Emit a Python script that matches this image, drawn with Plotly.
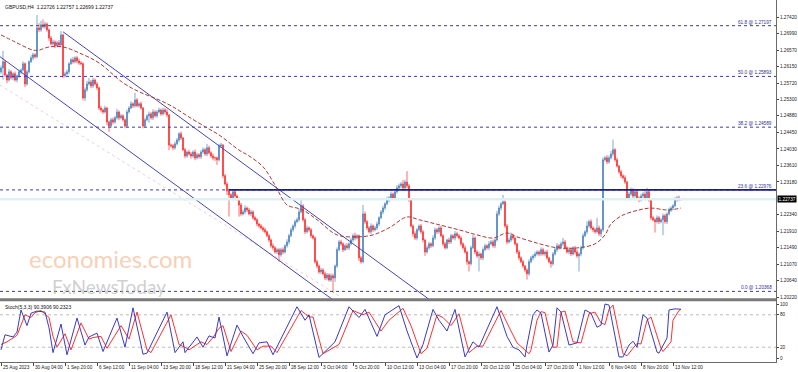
import plotly.graph_objects as go

# ---------------- data ----------------
symbol_title = "GBPUSD,H4  1.22726 1.22757 1.22699 1.22737"
stoch_title = "Stoch(5,3,3) 90.3906 90.2323"

first_open = 1.2601
closes = [
    1.2611, 1.2627, 1.2593, 1.2580, 1.2601, 1.2586, 1.2596, 1.2580, 1.2591, 1.2601,
    1.2606, 1.2622, 1.2570, 1.2601, 1.2627, 1.2637, 1.2645, 1.2640, 1.2714, 1.2709,
    1.2722, 1.2717, 1.2724, 1.2709, 1.2688, 1.2673, 1.2678, 1.2668, 1.2676, 1.2670,
    1.2696, 1.2591, 1.2596, 1.2601, 1.2622, 1.2632, 1.2627, 1.2637, 1.2629, 1.2624,
    1.2622, 1.2534, 1.2555, 1.2570, 1.2575, 1.2565, 1.2580, 1.2570, 1.2560, 1.2508,
    1.2503, 1.2498, 1.2508, 1.2472, 1.2462, 1.2478, 1.2472, 1.2483, 1.2498, 1.2483,
    1.2488, 1.2478, 1.2462, 1.2498, 1.2508, 1.2519, 1.2514, 1.2529, 1.2514, 1.2519,
    1.2508, 1.2462, 1.2478, 1.2488, 1.2493, 1.2483, 1.2498, 1.2488, 1.2498, 1.2503,
    1.2493, 1.2503, 1.2498, 1.2490, 1.2413, 1.2411, 1.2406, 1.2416, 1.2426, 1.2442,
    1.2431, 1.2401, 1.2385, 1.2395, 1.2390, 1.2385, 1.2395, 1.2380, 1.2388, 1.2383,
    1.2395, 1.2401, 1.2390, 1.2406, 1.2393, 1.2385, 1.2380, 1.2380, 1.2375, 1.2411,
    1.2413, 1.2334, 1.2313, 1.2295, 1.2285, 1.2277, 1.2293, 1.2282, 1.2275, 1.2259,
    1.2236, 1.2241, 1.2251, 1.2246, 1.2236, 1.2241, 1.2226, 1.2221, 1.2210, 1.2205,
    1.2200, 1.2195, 1.2190, 1.2180, 1.2169, 1.2154, 1.2149, 1.2138, 1.2144, 1.2131,
    1.2144, 1.2138, 1.2154, 1.2164, 1.2180, 1.2195, 1.2205, 1.2216, 1.2221, 1.2241,
    1.2257, 1.2221, 1.2190, 1.2200, 1.2195, 1.2180, 1.2174, 1.2113, 1.2102, 1.2087,
    1.2092, 1.2082, 1.2071, 1.2079, 1.2066, 1.2077, 1.2071, 1.2102, 1.2144, 1.2164,
    1.2159, 1.2144, 1.2154, 1.2149, 1.2159, 1.2169, 1.2180, 1.2174, 1.2180, 1.2123,
    1.2113, 1.2236, 1.2216, 1.2200, 1.2190, 1.2205, 1.2195, 1.2200, 1.2210, 1.2226,
    1.2241, 1.2251, 1.2262, 1.2272, 1.2277, 1.2287, 1.2277, 1.2293, 1.2303, 1.2308,
    1.2313, 1.2303, 1.2318, 1.2308, 1.2272, 1.2205, 1.2185, 1.2174, 1.2195, 1.2205,
    1.2190, 1.2169, 1.2138, 1.2149, 1.2159, 1.2154, 1.2174, 1.2195, 1.2190, 1.2200,
    1.2180, 1.2159, 1.2149, 1.2169, 1.2164, 1.2180, 1.2174, 1.2185, 1.2180, 1.2174,
    1.2159, 1.2149, 1.2138, 1.2113, 1.2108, 1.2149, 1.2174, 1.2138, 1.2128, 1.2133,
    1.2123, 1.2144, 1.2154, 1.2149, 1.2159, 1.2164, 1.2154, 1.2169, 1.2236, 1.2251,
    1.2262, 1.2267, 1.2205, 1.2164, 1.2169, 1.2180, 1.2174, 1.2159, 1.2138, 1.2123,
    1.2113, 1.2102, 1.2092, 1.2082, 1.2113, 1.2123, 1.2128, 1.2133, 1.2138, 1.2133,
    1.2144, 1.2133, 1.2138, 1.2123, 1.2113, 1.2108, 1.2133, 1.2144, 1.2154, 1.2149,
    1.2159, 1.2164, 1.2149, 1.2138, 1.2144, 1.2133, 1.2149, 1.2138, 1.2128, 1.2133,
    1.2149, 1.2180, 1.2190, 1.2205, 1.2216, 1.2200, 1.2195, 1.2190, 1.2200, 1.2185,
    1.2195, 1.2375, 1.2380, 1.2370, 1.2380, 1.2390, 1.2401, 1.2375, 1.2359, 1.2344,
    1.2334, 1.2329, 1.2318, 1.2277, 1.2287, 1.2298, 1.2282, 1.2293, 1.2277, 1.2272,
    1.2282, 1.2287, 1.2277, 1.2293, 1.2272, 1.2226, 1.2221, 1.2216, 1.2226, 1.2216,
    1.2221, 1.2231, 1.2216, 1.2236, 1.2246, 1.2251, 1.2257, 1.2272, 1.2277, 1.2273,
    1.22737,
]
# wick lengths in pips (high above body top, low below body bottom)
wick_up_pips = [
    6, 28, 4, 3, 7, 5, 4, 6, 3, 5,
    4, 6, 3, 5, 4, 7, 5, 4, 33, 12,
    10, 14, 6, 4, 3, 5, 6, 4, 5, 7,
    10, 3, 5, 6, 4, 5, 7, 4, 5, 6,
    5, 4, 6, 8, 10, 5, 6, 4, 5, 3,
    5, 4, 6, 3, 4, 5, 6, 5, 8, 4,
    5, 4, 3, 6, 5, 7, 4, 18, 5, 4,
    6, 3, 5, 4, 6, 5, 7, 4, 5, 6,
    4, 6, 5, 7, 3, 4, 5, 6, 5, 4,
    6, 3, 5, 4, 6, 5, 4, 7, 5, 4,
    5, 6, 4, 10, 5, 4, 6, 3, 4, 5,
    6, 3, 4, 5, 6, 4, 7, 5, 4, 3,
    5, 6, 7, 4, 5, 6, 4, 5, 4, 3,
    5, 4, 6, 3, 5, 4, 6, 4, 5, 4,
    5, 6, 4, 7, 5, 6, 4, 5, 6, 8,
    15, 4, 5, 6, 4, 5, 3, 4, 5, 4,
    5, 4, 6, 5, 4, 6, 5, 4, 6, 5,
    6, 4, 5, 7, 4, 6, 5, 8, 4, 3,
    5, 23, 6, 4, 5, 7, 4, 5, 6, 4,
    5, 6, 4, 8, 5, 6, 4, 5, 7, 6,
    5, 10, 6, 28, 5, 3, 4, 6, 5, 4,
    5, 4, 3, 6, 5, 4, 7, 6, 5, 4,
    6, 4, 5, 3, 6, 5, 4, 7, 5, 4,
    5, 4, 6, 3, 4, 5, 8, 4, 5, 6,
    4, 6, 5, 4, 7, 5, 6, 4, 8, 6,
    5, 18, 4, 5, 6, 8, 5, 4, 3, 5,
    4, 5, 3, 4, 6, 5, 4, 6, 5, 4,
    6, 5, 4, 6, 3, 4, 5, 6, 7, 5,
    6, 10, 5, 4, 6, 5, 4, 5, 6, 4,
    5, 6, 4, 12, 5, 6, 4, 5, 26, 6,
    4, 6, 5, 7, 6, 8, 26, 4, 5, 3,
    5, 4, 6, 3, 5, 6, 4, 7, 5, 4,
    6, 5, 8, 10, 4, 3, 5, 4, 6, 5,
    4, 6, 5, 4, 6, 5, 4, 7, 5, 6,
    2,
]
wick_dn_pips = [
    5, 30, 6, 8, 4, 5, 7, 4, 6, 5,
    6, 4, 8, 5, 4, 3, 6, 5, 4, 6,
    5, 4, 6, 5, 7, 4, 5, 6, 4, 5,
    4, 6, 5, 4, 6, 3, 5, 4, 6, 5,
    4, 6, 8, 5, 4, 6, 5, 4, 6, 5,
    6, 5, 4, 8, 15, 5, 6, 4, 5, 6,
    4, 5, 6, 5, 4, 3, 6, 5, 4, 5,
    4, 6, 5, 4, 18, 5, 6, 4, 5, 4,
    5, 4, 6, 5, 13, 4, 6, 5, 4, 6,
    5, 4, 6, 5, 4, 7, 5, 6, 4, 5,
    6, 4, 5, 6, 4, 5, 6, 8, 13, 4,
    5, 6, 4, 10, 56, 5, 6, 4, 5, 30,
    5, 4, 6, 5, 4, 6, 5, 4, 6, 5,
    4, 6, 5, 4, 6, 5, 7, 4, 5, 18,
    5, 6, 4, 5, 6, 4, 5, 6, 4, 5,
    4, 5, 6, 4, 5, 6, 4, 5, 6, 5,
    6, 4, 5, 6, 4, 5, 38, 10, 5, 4,
    5, 6, 4, 5, 6, 4, 5, 6, 4, 8,
    5, 4, 6, 5, 4, 6, 5, 4, 6, 5,
    4, 6, 5, 4, 6, 5, 4, 6, 5, 4,
    6, 5, 4, 6, 5, 4, 8, 5, 6, 4,
    5, 6, 10, 4, 5, 6, 4, 5, 6, 5,
    4, 6, 5, 4, 6, 5, 4, 6, 5, 4,
    6, 5, 4, 8, 20, 5, 4, 6, 5, 40,
    5, 6, 4, 5, 6, 4, 5, 6, 4, 5,
    6, 4, 5, 6, 4, 5, 6, 4, 5, 6,
    4, 5, 6, 15, 5, 4, 6, 5, 4, 6,
    5, 4, 6, 5, 4, 10, 5, 4, 6, 5,
    4, 6, 5, 4, 6, 5, 4, 6, 5, 40,
    6, 5, 4, 6, 5, 4, 6, 5, 4, 6,
    8, 5, 4, 6, 5, 4, 6, 5, 4, 5,
    6, 4, 5, 6, 4, 5, 6, 4, 5, 6,
    4, 5, 6, 4, 5, 6, 4, 28, 5, 6,
    4, 40, 5, 6, 4, 5, 6, 4, 5, 4,
    3,
]

# moving average (dashed), read at sampled bars
ma_bars = [0, 7, 16, 19, 24, 31, 39, 49, 61, 69, 79, 86, 94, 103, 109, 119, 124, 131, 137,
           143, 148, 151, 158, 168, 178, 186, 194, 203, 209, 219, 229, 238, 246, 253, 258,
           268, 278, 289, 297, 302, 305, 311, 319, 325, 333, 340]
ma_vals = [1.2696, 1.2678, 1.2657, 1.2657, 1.2665, 1.2665, 1.2650, 1.2624, 1.2573, 1.2550,
           1.2529, 1.2511, 1.2485, 1.2457, 1.2439, 1.2400, 1.2385, 1.2357, 1.2310, 1.2259,
           1.2251, 1.2246, 1.2221, 1.2182, 1.2177, 1.2182, 1.2200, 1.2228, 1.2221, 1.2208,
           1.2195, 1.2182, 1.2174, 1.2187, 1.2177, 1.2161, 1.2149, 1.2149, 1.2159, 1.2182,
           1.2210, 1.2233, 1.2246, 1.2251, 1.2246, 1.2251]

# trend channel anchors (bar, price)
channel_upper = [(31, 1.2704), (220, 1.1994)]
channel_lower = [(-0.5, 1.2640), (170, 1.2000)]
faint_line = [(-0.5, 1.2567), (170, 1.2022)]

# Fibonacci levels
fib_names = ["61.8", "50.0", "38.2", "23.6", "0.0"]
fib_prices = [1.27197, 1.25893, 1.24589, 1.22976, 1.20368]
level_line_start_bar = 114
level_line_price = 1.22976
bid_price = 1.22737

# stochastic
k_bars = [0, 2, 6, 8, 10, 13, 15, 18, 22, 24, 26, 30, 33, 38, 42, 44, 48, 51, 58, 62, 66, 71, 73,
          83, 87, 91, 92, 98, 101, 104, 107, 109, 113, 118, 121, 126, 129, 133, 136, 148, 152,
          154, 159, 167, 174, 179, 182, 188, 192, 199, 203, 208, 211, 216, 219, 223, 227, 232,
          236, 239, 248, 253, 256, 259, 262, 263, 266, 268, 270, 274, 276, 278, 280, 284, 288,
          292, 295, 298, 300, 302, 304, 309, 311, 314, 316, 318, 321, 323, 328, 329, 333, 334,
          337, 340]
k_vals = [15, 43, 39, 48, 89, 60, 83, 87, 85, 56, 10, 63, 6, 74, 24, 39, 46, 12, 74, 20, 93, 7, 9,
          85, 10, 30, 10, 39, 20, 41, 37, 76, 4, 61, 40, 8, 28, 30, 6, 95, 70,
          80, 1, 30, 95, 75, 90, 40, 80, 97, 50, 0, 25, 90, 70, 50, 90, 2,
          30, 20, 95, 40, 20, 15, 2, 24, 80, 89, 83, 11, 24, 93, 85, 24, 28,
          89, 83, 57, 61, 100, 98, 2, 2, 24, 31, 20, 80, 74, 11, 9, 37, 89,
          91, 90.39]
d_bars = [0, 3, 8, 10, 12, 15, 17, 20, 24, 26, 28, 32, 35, 40, 44, 46, 50, 53, 60, 64, 68, 73, 75,
          85, 89, 93, 94, 100, 103, 106, 109, 111, 115, 120, 123, 128, 131, 135, 138, 150, 154,
          156, 161, 169, 176, 181, 184, 190, 194, 201, 205, 210, 213, 218, 221, 225, 229, 234,
          238, 241, 250, 255, 258, 261, 264, 265, 268, 270, 272, 276, 278, 280, 282, 286, 290,
          294, 297, 300, 302, 304, 306, 311, 313, 316, 318, 320, 323, 325, 330, 331, 335, 336,
          339, 340]
d_vals = [25, 30, 42, 60, 80, 75, 84, 88, 75, 40, 20, 45, 15, 65, 35, 38, 40, 18, 60, 35, 85, 15, 10,
          80, 25, 18, 15, 30, 25, 38, 55, 60, 12, 50, 42, 15, 22, 22, 10, 88, 76,
          76, 8, 25, 88, 80, 85, 50, 70, 92, 60, 8, 18, 80, 75, 60, 82, 10,
          22, 22, 88, 50, 28, 18, 8, 15, 70, 86, 84, 20, 20, 85, 87, 30, 28,
          82, 85, 65, 62, 90, 98, 8, 4, 18, 27, 26, 70, 76, 18, 12, 30, 70,
          88, 90.23]

price_ticks = [1.27420, 1.26990, 1.26570, 1.26150, 1.25720, 1.25300, 1.24880, 1.24450, 1.24030,
               1.23610, 1.23180, 1.22340, 1.21910, 1.21490, 1.21070, 1.20640, 1.20220]
stoch_ticks = [0, 20, 80, 100]
date_labels = ["25 Aug 2023", "30 Aug 04:00", "1 Sep 20:00", "6 Sep 12:00", "11 Sep 04:00",
               "13 Sep 20:00", "18 Sep 12:00", "21 Sep 04:00", "25 Sep 20:00", "28 Sep 12:00",
               "3 Oct 04:00", "5 Oct 20:00", "10 Oct 12:00", "13 Oct 04:00", "17 Oct 20:00",
               "20 Oct 12:00", "25 Oct 04:00", "27 Oct 20:00", "1 Nov 12:00", "6 Nov 04:00",
               "8 Nov 20:00", "13 Nov 12:00"]
date_label_bars = [16 * i for i in range(len(date_labels))]

# ---------------- build ----------------
n = len(closes)
bars = list(range(n))
opens = [first_open] + closes[:-1]
highs = [max(o, c) + u / 10000 for o, c, u in zip(opens, closes, wick_up_pips)]
lows = [min(o, c) - d / 10000 for o, c, d in zip(opens, closes, wick_dn_pips)]

X_RANGE = [-0.5, 387.5]
Y_RANGE = [1.201726, 1.278569]
S_RANGE = [-7.4, 105.6]
FONT = "Liberation Sans"
SMALL = 4.7
W, H = 798, 372
PW = 776  # plot-area width in px (paper x spans this)

fig = go.Figure()

# faint guide line and channel
fig.add_trace(go.Scatter(x=[p[0] for p in faint_line], y=[p[1] for p in faint_line], mode="lines",
                         line=dict(color="rgba(210,170,200,0.55)", width=1, dash="dot"),
                         hoverinfo="skip"))
for ch in (channel_upper, channel_lower):
    fig.add_trace(go.Scatter(x=[p[0] for p in ch], y=[p[1] for p in ch], mode="lines",
                             line=dict(color="#4646b4", width=1), hoverinfo="skip"))

# bid line
fig.add_trace(go.Scatter(x=X_RANGE, y=[bid_price, bid_price], mode="lines",
                         line=dict(color="#dcf1f3", width=2.5), hoverinfo="skip"))

# fib dotted levels
for p in fib_prices:
    fig.add_trace(go.Scatter(x=X_RANGE, y=[p, p], mode="lines",
                             line=dict(color="#3c3caa", width=1, dash="dot"), hoverinfo="skip"))
# solid level line
fig.add_trace(go.Scatter(x=[level_line_start_bar, X_RANGE[1]], y=[level_line_price, level_line_price],
                         mode="lines", line=dict(color="#1c1c8c", width=1.6), hoverinfo="skip"))

# moving average
fig.add_trace(go.Scatter(x=ma_bars, y=ma_vals, mode="lines", line_shape="spline",
                         line=dict(color="#a83a36", width=1, dash="4px,2px"), hoverinfo="skip"))

# candles
fig.add_trace(go.Candlestick(x=bars, open=opens, high=highs, low=lows, close=closes,
                             increasing=dict(line=dict(color="#4a84bf", width=0.7), fillcolor="#4a84bf"),
                             decreasing=dict(line=dict(color="#ff2d2d", width=0.7), fillcolor="#ff2d2d"),
                             whiskerwidth=0, hoverinfo="skip"))

# stochastic
fig.add_trace(go.Scatter(x=X_RANGE, y=[80, 80], xaxis="x2", yaxis="y2", mode="lines",
                         line=dict(color="#bdbdbd", width=1, dash="dot"), hoverinfo="skip"))
fig.add_trace(go.Scatter(x=X_RANGE, y=[20, 20], xaxis="x2", yaxis="y2", mode="lines",
                         line=dict(color="#bdbdbd", width=1, dash="dot"), hoverinfo="skip"))
fig.add_trace(go.Scatter(x=d_bars, y=d_vals, xaxis="x2", yaxis="y2", mode="lines",
                         line=dict(color="#ff3030", width=1), hoverinfo="skip"))
fig.add_trace(go.Scatter(x=k_bars, y=k_vals, xaxis="x2", yaxis="y2", mode="lines",
                         line=dict(color="#3a3ac0", width=1), hoverinfo="skip"))

main_dom = [1 - 299 / H, 1.0]
stoch_dom = [1 - 362 / H, 1 - 301 / H]

axis_common = dict(showgrid=False, zeroline=False, showline=True, mirror=True,
                   linecolor="#6a6a6a", linewidth=1)
fig.update_layout(
    width=W, height=H, margin=dict(l=0, r=W - PW, t=0, b=0, autoexpand=False),
    paper_bgcolor="white", plot_bgcolor="white", showlegend=False,
    xaxis=dict(domain=[0, 1], range=X_RANGE, anchor="y", showticklabels=False,
               rangeslider=dict(visible=False), **axis_common),
    yaxis=dict(domain=main_dom, range=Y_RANGE, anchor="x", side="right",
               tickvals=price_ticks, ticktext=[f"{v:.5f}" for v in price_ticks],
               ticks="outside", ticklen=2, tickcolor="#444", ticklabelstandoff=0,
               tickfont=dict(family=FONT, size=SMALL, color="#222"), **axis_common),
    xaxis2=dict(domain=[0, 1], range=X_RANGE, anchor="y2", showticklabels=False,
                tickvals=date_label_bars, ticks="outside", ticklen=3, tickcolor="#444",
                **axis_common),
    yaxis2=dict(domain=stoch_dom, range=S_RANGE, anchor="x2", side="right",
                tickvals=stoch_ticks, ticktext=[str(v) for v in stoch_ticks],
                ticks="outside", ticklen=2, tickcolor="#444", ticklabelstandoff=0,
                tickfont=dict(family=FONT, size=SMALL, color="#222"), **axis_common),
)

# thick separator between panes
fig.add_shape(type="line", xref="paper", yref="paper", x0=0, x1=1,
              y0=1 - 299.8 / H, y1=1 - 299.8 / H, line=dict(color="#7a7a7a", width=3))

ann = []
ann.append(dict(text=symbol_title, xref="paper", yref="paper", x=3 / PW, y=1 - 1.5 / H,
                xanchor="left", yanchor="top", showarrow=False,
                font=dict(family=FONT, size=5, color="#111")))
ann.append(dict(text=stoch_title, xref="paper", yref="paper", x=3 / PW, y=1 - 301.5 / H,
                xanchor="left", yanchor="top", showarrow=False,
                font=dict(family=FONT, size=5, color="#111")))
for name, p in zip(fib_names, fib_prices):
    ann.append(dict(text=f"{name} @ {p:.5f}", xref="paper", yref="y", x=774 / PW, y=p,
                    xanchor="right", yanchor="bottom", showarrow=False, yshift=-1,
                    font=dict(family=FONT, size=SMALL, color="#3030a0")))
ann.append(dict(text=f"{bid_price:.5f}", xref="paper", yref="y", x=1.0, y=bid_price,
                xanchor="left", yanchor="middle", showarrow=False, bgcolor="#000000",
                borderpad=0.5, xshift=0.5, font=dict(family=FONT, size=SMALL, color="#ffffff")))
for lbl, b in zip(date_labels, date_label_bars):
    ann.append(dict(text=lbl, xref="x2", yref="paper", x=b, y=1 - 363 / H,
                    xanchor="left", yanchor="top", showarrow=False,
                    font=dict(family=FONT, size=SMALL, color="#222")))
# watermark
ann.append(dict(text="economies.com", xref="paper", yref="paper", x=110 / PW, y=1 - 258 / H,
                xanchor="center", yanchor="middle", showarrow=False,
                font=dict(family="Lato", size=24, color="rgba(245,180,140,0.65)")))
ann.append(dict(text="FxNewsToday", xref="paper", yref="paper", x=109 / PW, y=1 - 286 / H,
                xanchor="center", yanchor="middle", showarrow=False,
                font=dict(family="Lato", size=19, color="rgba(175,175,175,0.6)")))
fig.update_layout(annotations=ann)

fig.write_html("out.html", config={"displayModeBar": False},
               post_script="document.body.style.margin='0px';document.body.style.overflow='hidden';")
